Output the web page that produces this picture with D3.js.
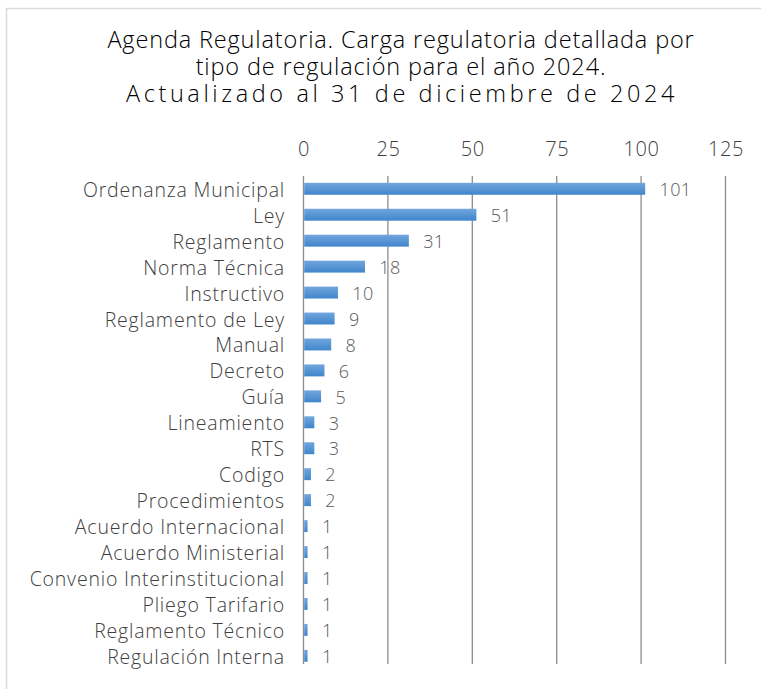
<!DOCTYPE html>
<html>
<head>
<meta charset="utf-8">
<script src="https://cdn.jsdelivr.net/npm/d3@7"></script>
<style>
  html, body { margin: 0; padding: 0; background: #fff; overflow: hidden; }
  svg { display: block; }
  text { font-family: "Open Sans", Lato, sans-serif; font-weight: 300; }
</style>
</head>
<body>
<div id="chart"></div>
<script>
// datos
var categorias = ["Ordenanza Municipal", "Ley", "Reglamento", "Norma Técnica", "Instructivo",
  "Reglamento de Ley", "Manual", "Decreto", "Guía", "Lineamiento", "RTS", "Codigo",
  "Procedimientos", "Acuerdo Internacional", "Acuerdo Ministerial", "Convenio Interinstitucional",
  "Pliego Tarifario", "Reglamento Técnico", "Regulación Interna"];
var valores = [101, 51, 31, 18, 10, 9, 8, 6, 5, 3, 3, 2, 2, 1, 1, 1, 1, 1, 1];
var ticks = [0, 25, 50, 75, 100, 125];
var titulo = ["Agenda Regulatoria. Carga regulatoria detallada por",
  "tipo de regulación para el año 2024.",
  "Actualizado al 31 de diciembre de 2024"];

var width = 761, height = 689;
var fuente = "'Open Sans', Lato, sans-serif";
var svg = d3.select("#chart").append("svg")
  .attr("width", width)
  .attr("height", height);

// gradiente de las barras
var grad = svg.append("defs").append("linearGradient")
  .attr("id", "barGrad")
  .attr("x1", 0).attr("y1", 0).attr("x2", 0).attr("y2", 1);
grad.append("stop").attr("offset", "0%").attr("stop-color", "#72a6dd");
grad.append("stop").attr("offset", "100%").attr("stop-color", "#3f85cc");

// marco
svg.append("rect")
  .attr("x", 6.5).attr("y", 8.5)
  .attr("width", width + 20).attr("height", height + 20)
  .attr("fill", "none")
  .attr("stroke", "#d9d9d9")
  .attr("stroke-width", 1.5);

// titulo (un solo texto con tres lineas)
var tit = svg.append("text")
  .attr("class", "titulo")
  .attr("text-anchor", "middle")
  .attr("font-size", 23.5)
  .attr("fill", "#000");
tit.selectAll("tspan")
  .data(titulo)
  .enter().append("tspan")
  .attr("x", function (d, i) { return i == 2 ? 402 : 401; })
  .attr("y", function (d, i) { return 48 + i * 27; })
  .attr("letter-spacing", function (d, i) { return i == 2 ? 3.6 : 0.85; })
  .text(function (d) { return d; });

var x = d3.scaleLinear().domain([0, 125]).range([303.5, 725.5]);
var y = d3.scaleBand().domain(categorias).range([175.8, 668.8]).paddingInner(0.54).paddingOuter(0.27);

// lineas de cuadricula
svg.selectAll(".grid")
  .data(ticks)
  .enter().append("line")
  .attr("class", "grid")
  .attr("x1", function (d) { return x(d); })
  .attr("x2", function (d) { return x(d); })
  .attr("y1", 176)
  .attr("y2", 664)
  .attr("stroke", "#8c8c8c")
  .attr("stroke-width", 1.3);

// eje superior
var xAxis = d3.axisTop(x).tickValues(ticks).tickSize(0).tickPadding(0);
var gx = svg.append("g").attr("transform", "translate(0,156)").call(xAxis);
gx.select(".domain").remove();
gx.selectAll("text")
  .attr("font-size", 20)
  .attr("letter-spacing", 0.6)
  .attr("fill", "#404040")
  .attr("font-family", fuente)
  .attr("font-weight", 300);

// eje de categorias
var yAxis = d3.axisLeft(y).tickSize(0).tickPadding(0);
var gy = svg.append("g").attr("transform", "translate(285,0)").call(yAxis);
gy.select(".domain").remove();
gy.selectAll("text")
  .attr("font-size", 19.5)
  .attr("letter-spacing", 0.8)
  .attr("fill", "#404040")
  .attr("dy", "0.41em")
  .attr("font-family", fuente)
  .attr("font-weight", 300);

// barras
svg.selectAll(".bar")
  .data(valores)
  .enter().append("rect")
  .attr("class", "bar")
  .attr("x", x(0) + 0.7)
  .attr("y", function (d, i) { return y(categorias[i]); })
  .attr("width", function (d) { return x(d) - x(0); })
  .attr("height", y.bandwidth())
  .attr("fill", "url(#barGrad)");

// etiquetas de valor
svg.selectAll(".valor")
  .data(valores)
  .enter().append("text")
  .attr("class", "valor")
  .attr("x", function (d) { return x(d) + 15; })
  .attr("y", function (d, i) { return y(categorias[i]) + y.bandwidth() / 2; })
  .attr("dy", "0.4em")
  .attr("font-size", 18)
  .attr("letter-spacing", 0.4)
  .attr("fill", "#595959")
  .text(function (d) { return d; });
</script>
</body>
</html>
